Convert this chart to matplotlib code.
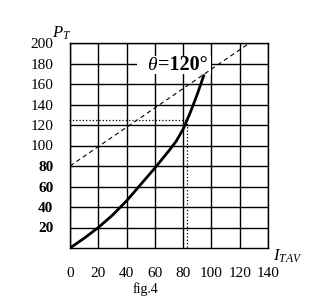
import numpy as np
import matplotlib.pyplot as plt
from matplotlib.patches import Rectangle

plt.rcParams['font.family'] = 'Liberation Serif'
plt.rcParams['mathtext.fontset'] = 'custom'
plt.rcParams['mathtext.rm'] = 'Liberation Serif'
plt.rcParams['mathtext.it'] = 'Liberation Serif:italic'
plt.rcParams['mathtext.bf'] = 'Liberation Serif:bold'

# power loss curve, theta = 120 deg
i_tav = [0, 10, 20, 30, 40, 50, 60, 70, 75, 80, 85, 90, 94.5]
p_t = [0, 9.5, 20, 32, 46, 62, 78, 95, 104, 116, 132, 150, 168]

# dashed reference line
dash_x = [0, 127]
dash_y = [80, 200]

# operating point read-off
op_i = 82.5
op_p = 125

x_ticks = [0, 20, 40, 60, 80, 100, 120, 140]
y_ticks = [20, 40, 60, 80, 100, 120, 140, 160, 180, 200]
bold_y = [20, 40, 60, 80]

fig = plt.figure(figsize=(3.21, 3.02), dpi=100)
ax = fig.add_axes([70/321, 54/302, 198/321, 205/302])

ax.set_xlim(0, 140)
ax.set_ylim(0, 200)
ax.set_xticks(x_ticks)
ax.set_yticks(y_ticks)
ax.grid(True, color='black', lw=1.0)
ax.set_axisbelow(True)
ax.tick_params(length=0, labelsize=11)
ax.tick_params(axis='y', pad=12)
ax.tick_params(axis='x', pad=14)
for lab, v in zip(ax.get_yticklabels(), y_ticks):
    if v in bold_y:
        lab.set_fontweight('bold')
for s in ax.spines.values():
    s.set_linewidth(1.0)

# white patch behind the label, hides the grid there
ax.add_patch(Rectangle((47.4, 170), 52.2, 17.5, facecolor='white', edgecolor='none', zorder=2.5))

ax.plot(dash_x, dash_y, color='black', lw=0.8, ls=(0, (4, 3)), zorder=3)
ax.plot(i_tav, p_t, color='black', lw=2.0, zorder=4)
ax.plot([-1, op_i], [op_p, op_p], color='black', lw=0.9, ls=':', zorder=3, clip_on=False)
ax.plot([op_i, op_i], [op_p, -1], color='black', lw=0.9, ls=':', zorder=3, clip_on=False)

ax.text(54.5, 178.5, r'$\theta$', fontsize=14, ha='left', va='center', zorder=5)
ax.text(62.2, 178.5, '=120°', fontsize=14.5, fontweight='bold', ha='left', va='center', zorder=5)

fig.text(62/321, 1 - 33/302, r'$P_T$', fontsize=12, ha='center', va='center')
fig.text(288/321, 1 - 256/302, r'$I_{TAV}$', fontsize=12, ha='center', va='center')
fig.text(145/321, 1 - 289/302, 'fig.4', fontsize=10, ha='center', va='center')

fig.savefig('out.png', dpi=100)
